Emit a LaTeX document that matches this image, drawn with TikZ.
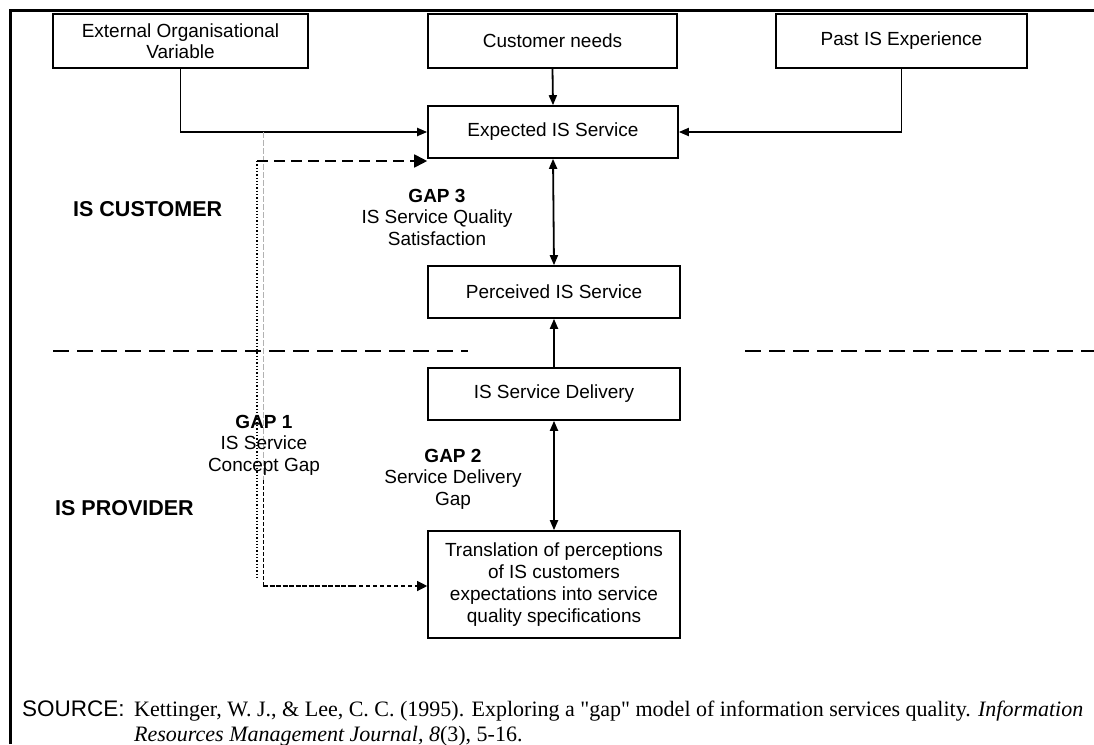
\documentclass[tikz,border=0pt]{standalone}
\usepackage{fontspec}
\setmainfont{Liberation Sans}
\newfontfamily\refserif{Liberation Serif}
\usetikzlibrary{arrows.meta,positioning}
\tikzset{
  box/.style={draw,line width=1.6pt,align=center,inner sep=0pt,minimum height=52pt,
    font=\fontsize{19}{22}\selectfont},
  conn/.style={line width=1.8pt},
  lbl/.style={align=center,font=\fontsize{19}{21.5}\selectfont},
  side/.style={anchor=west,inner sep=0pt,font=\fontsize{21.5}{24}\selectfont\bfseries},
  divider/.style={line width=2.6pt,dash pattern=on 16pt off 8pt},
  >={Triangle[length=10pt,width=8pt]}
}
\begin{document}
\begin{tikzpicture}[x=1pt,y=-1pt]
                \useasboundingbox (0,0) rectangle (1094,744);
                \draw[line width=3pt] (10,744) -- (10,10) -- (1094,10);
                \node[box,minimum width=255pt,minimum height=54pt] (ext) at (180.5,41) {\raisebox{-4pt}{\shortstack{External Organisational\\Variable}}};
                \node[box,minimum width=249pt,minimum height=54pt] (need) at (552.5,41) {Customer needs};
                \node[box,minimum width=251pt,minimum height=54pt] (past) at (901.5,41) {Past IS Experience};
                \node[box,minimum width=250pt] (expect) at (553,132) {Expected IS Service};
                \node[box,minimum width=252pt] (percv) at (554,292) {Perceived IS Service};
                \node[box,minimum width=252pt] (deliv) at (554,394) {IS Service Delivery};
                \node[box,minimum width=252pt,minimum height=107pt] (transl) at (554,584.5) {Translation of perceptions\\of IS customers\\expectations into service\\quality specifications};
                \draw[conn,->] (ext.south) |- (expect.west);
                \draw[conn,->] (need.south) -- (expect.north);
                \draw[conn,->] (past.south) |- (expect.east);
                \draw[conn,<->] (expect.south) -- (percv.north);
                \draw[conn,->] (deliv.north) -- (percv.south);
                \draw[conn,<->] (deliv.south) -- (transl.north);
                \coordinate (g1top) at (263,132);
                \coordinate (g1mid) at (263,480);
                \coordinate (g1bot) at (263,586);
                \coordinate (g1dash) at (352,586);
                \coordinate (dottop) at (257,161);
                \coordinate (dotbot) at (257,580);
                \draw[line width=2.4pt,dash pattern=on 1.5pt off 1.5pt] (g1top) -- ([xshift=-8pt]expect.west);
                \draw[gray!60,line width=0.6pt,dash pattern=on 6pt off 2pt] (g1top) -- (g1mid);
                \draw[line width=1pt,dash pattern=on 4pt off 2pt] (g1mid) -- (g1bot);
                \draw[line width=1.3pt,dotted] (dottop) -- (dotbot);
                \draw[line width=1.8pt,dash pattern=on 11pt off 6pt,-{Triangle[length=13pt,width=13pt]}] (dottop) -- (dottop -| expect.west);
                \draw[line width=2pt,dash pattern=on 5pt off 1.5pt] (g1bot) -- (g1dash);
                \draw[line width=1.2pt,dash pattern=on 4pt off 3pt,-{Triangle[length=10pt,width=10pt]}] (g1dash) -- (g1dash -| transl.west);
                \draw[divider] (53,351) -- (468,351);
                \draw[divider] (745,351) -- (1094,351);
                \node[side] (cust) at (73,209) {IS CUSTOMER};
                \node[side] (prov) at (55,508) {IS PROVIDER};
                \node[lbl] (gap3) at (437,217) {\textbf{GAP 3}\\IS Service Quality\\Satisfaction};
                \node[lbl] (gap1) at (264,445) {\textbf{GAP 1}\\IS Service\\Concept Gap};
                \node[lbl] (gap2) at (453,479) {\textbf{GAP 2}\\Service Delivery\\Gap};
                \node[anchor=base west,inner sep=0pt,font=\fontsize{22.5}{26}\selectfont] (src) at (22,716) {SOURCE:};
                \node[anchor=base west,inner sep=0pt,font=\refserif\fontsize{22}{26}\selectfont] (ref1) at (134,716) {Kettinger, W. J., \& Lee, C. C. (1995). Exploring a "gap" model of information services quality. \textit{Information}};
                \node[anchor=base west,inner sep=0pt,font=\refserif\fontsize{22}{26}\selectfont] (ref2) at (134,741) {\textit{Resources Management Journal, 8}(3), 5-16.};
            \end{tikzpicture}
\end{document}
